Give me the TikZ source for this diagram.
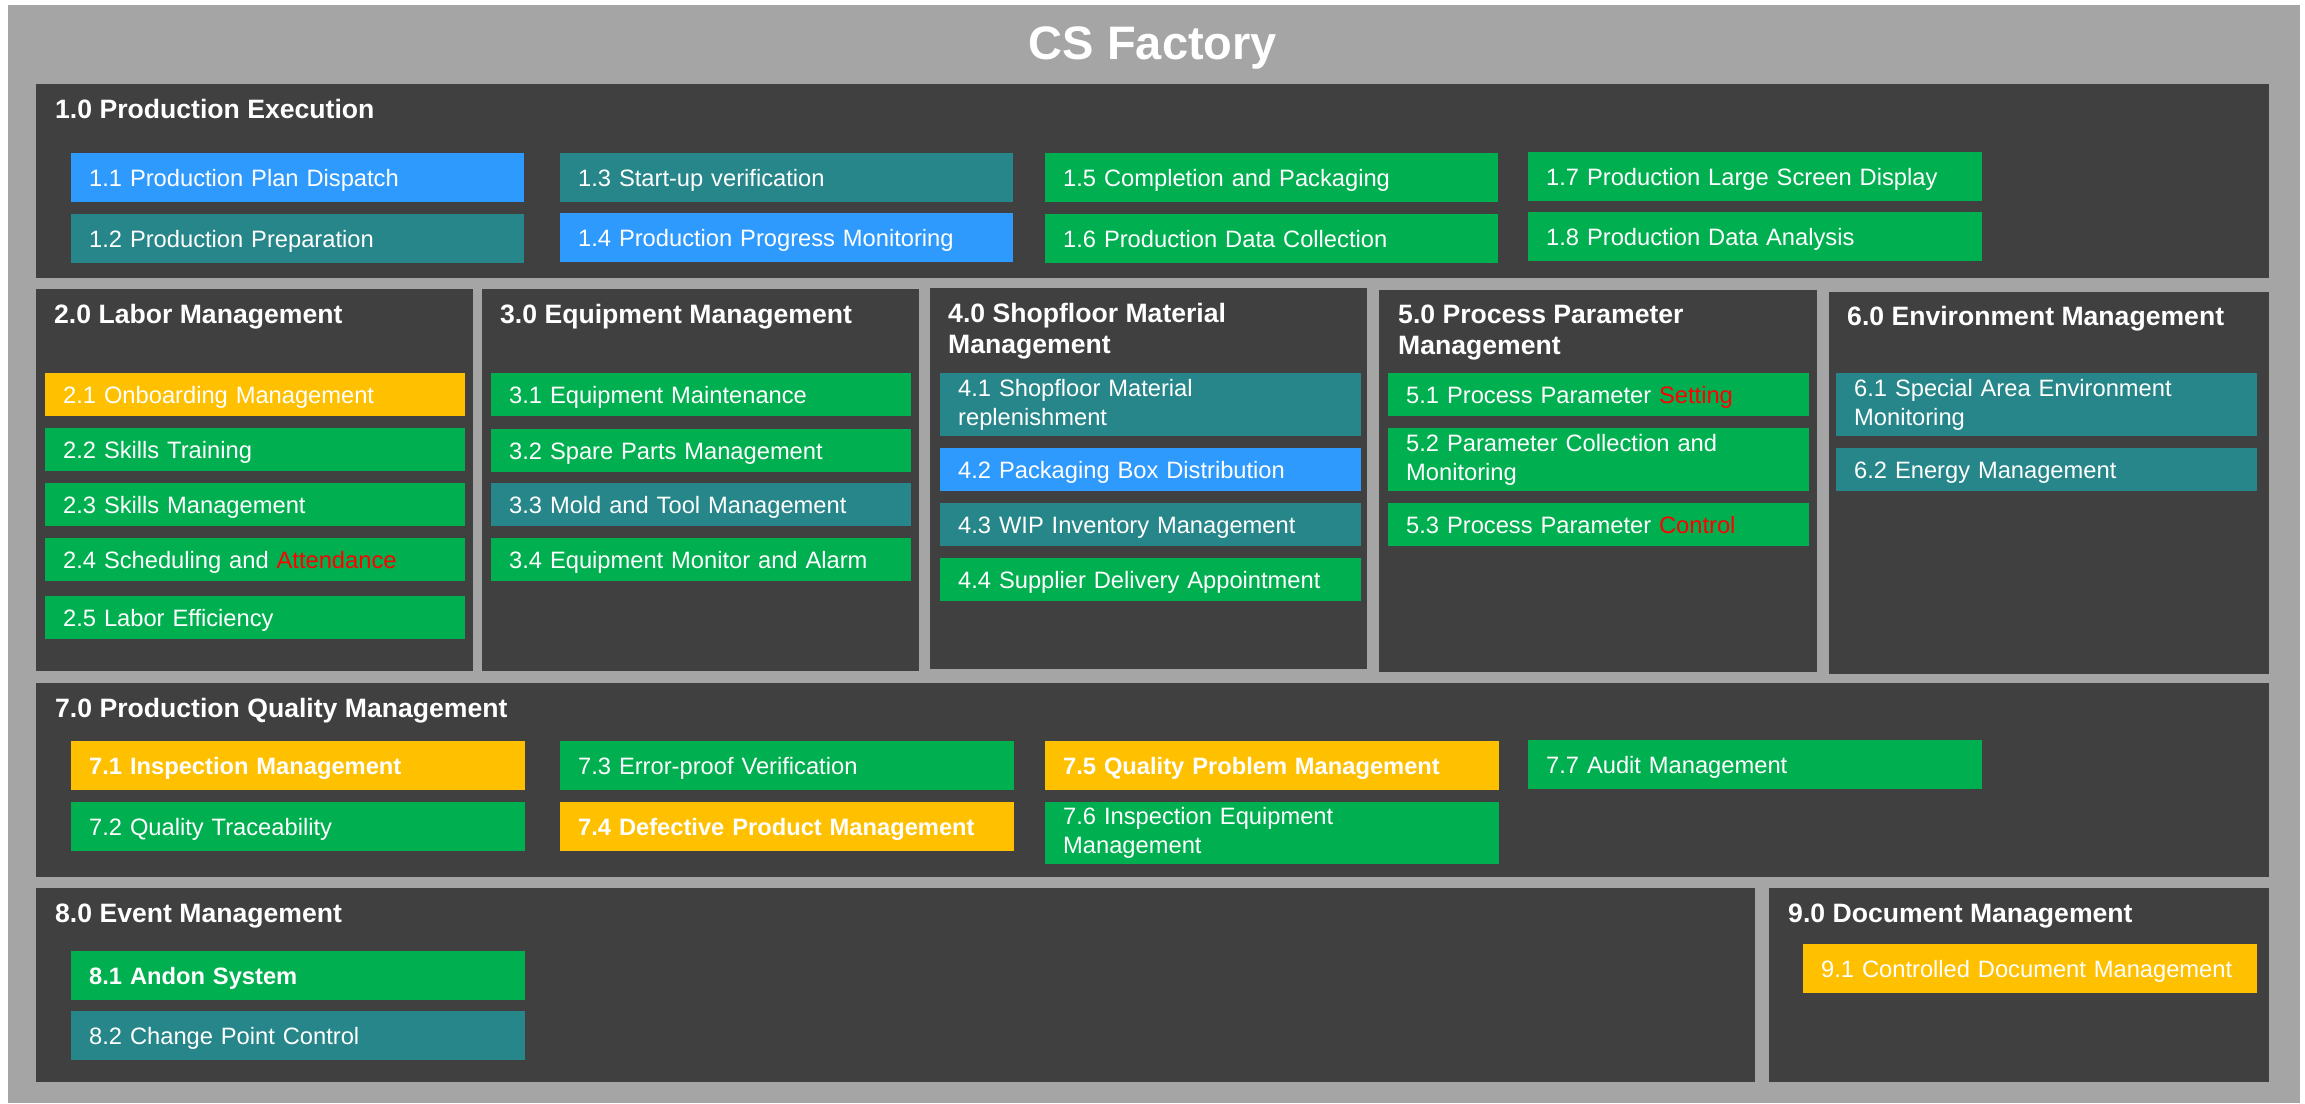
\documentclass[tikz,border=0pt]{standalone}
\usepackage{fontspec}
\setmainfont{Liberation Sans}
\usepackage{xcolor}
\definecolor{outergray}{HTML}{A5A5A5}
\definecolor{darkbox}{HTML}{404040}
\definecolor{cblue}{HTML}{2E9AFE}
\definecolor{cteal}{HTML}{26868A}
\definecolor{cgreen}{HTML}{00B050}
\definecolor{cyellow}{HTML}{FFC000}
\definecolor{cred}{HTML}{FF0000}
\newcommand{\myitem}[8]{% name, x1, y1, x2, y2, fill, style, text
  \pgfmathsetmacro\myW{#4-#2}%
  \pgfmathsetmacro\myH{#5-#3}%
  \pgfmathsetmacro\myT{#4-#2-36}%
  \node[#7, fill=#6, anchor=north west, minimum width=\myW pt, minimum height=\myH pt, text width=\myT pt] (#1) at (#2,#3) {#8};%
}
\newcommand{\mysec}[5]{% name, x1, y1, x2, y2
  \pgfmathsetmacro\myW{#4-#2}%
  \pgfmathsetmacro\myH{#5-#3}%
  \node[secbox, anchor=north west, minimum width=\myW pt, minimum height=\myH pt] (#1) at (#2,#3) {};%
}
\begin{document}
\begin{tikzpicture}[x=1pt,y=-1pt,
  secbox/.style={fill=darkbox, draw=none, inner sep=0pt},
  oneline/.style={draw=none, inner xsep=18pt, inner ysep=0pt, align=left, text=white,
    font=\fontsize{23.7}{29}\selectfont, text height=17pt, text depth=0pt},
  twoline/.style={draw=none, inner xsep=18pt, inner ysep=0pt, align=left, text=white,
    font=\fontsize{23.7}{29}\selectfont},
  sectitle/.style={text=white, inner sep=0pt, anchor=base west, font=\bfseries\fontsize{26.6}{31}\selectfont},
  sectitletwo/.style={text=white, inner sep=0pt, anchor=north west, align=left, font=\bfseries\fontsize{26.6}{31}\selectfont}
]
\useasboundingbox (0,0) rectangle (2305,1103);
\fill[outergray] (8,5) rectangle (2300,1103);
\node[text=white, anchor=base, inner sep=0pt, font=\bfseries\fontsize{47}{56}\selectfont] (title) at (1153,59) {CS Factory};

% sections
\mysec{s1}{36}{84}{2269}{278}
\mysec{s2}{36}{289}{473}{671}
\mysec{s3}{482}{289}{919}{671}
\mysec{s4}{930}{288}{1367}{669}
\mysec{s5}{1379}{290}{1817}{672}
\mysec{s6}{1829}{292}{2269}{674}
\mysec{s7}{36}{683}{2269}{877}
\mysec{s8}{36}{888}{1755}{1082}
\mysec{s9}{1769}{888}{2269}{1082}

% section titles
\node[sectitle] (t1) at (55,118) {1.0 Production Execution};
\node[sectitle] (t2) at (54,323) {2.0 Labor Management};
\node[sectitle] (t3) at (500,323) {3.0 Equipment Management};
\node[sectitletwo] (t4) at (948,303.5) {4.0 Shopfloor Material\\Management};
\node[sectitletwo] (t5) at (1398,305) {5.0 Process Parameter\\Management};
\node[sectitle] (t6) at (1847,325) {6.0 Environment Management};
\node[sectitle] (t7) at (55,717) {7.0 Production Quality Management};
\node[sectitle] (t8) at (55,922) {8.0 Event Management};
\node[sectitle] (t9) at (1788,922) {9.0 Document Management};

% 1.x
\myitem{i11}{71}{153}{524}{202}{cblue}{oneline}{1.1 Production Plan Dispatch}
\myitem{i12}{71}{214}{524}{263}{cteal}{oneline}{1.2 Production Preparation}
\myitem{i13}{560}{153}{1013}{202}{cteal}{oneline}{1.3 Start-up verification}
\myitem{i14}{560}{213}{1013}{262}{cblue}{oneline}{1.4 Production Progress Monitoring}
\myitem{i15}{1045}{153}{1498}{202}{cgreen}{oneline}{1.5 Completion and Packaging}
\myitem{i16}{1045}{214}{1498}{263}{cgreen}{oneline}{1.6 Production Data Collection}
\myitem{i17}{1528}{152}{1982}{201}{cgreen}{oneline}{1.7 Production Large Screen Display}
\myitem{i18}{1528}{212}{1982}{261}{cgreen}{oneline}{1.8 Production Data Analysis}

% 2.x
\myitem{i21}{45}{373}{465}{416}{cyellow}{oneline}{2.1 Onboarding Management}
\myitem{i22}{45}{428}{465}{471}{cgreen}{oneline}{2.2 Skills Training}
\myitem{i23}{45}{483}{465}{526}{cgreen}{oneline}{2.3 Skills Management}
\myitem{i24}{45}{538}{465}{581}{cgreen}{oneline}{2.4 Scheduling and \textcolor{cred}{Attendance}}
\myitem{i25}{45}{596}{465}{639}{cgreen}{oneline}{2.5 Labor Efficiency}

% 3.x
\myitem{i31}{491}{373}{911}{416}{cgreen}{oneline}{3.1 Equipment Maintenance}
\myitem{i32}{491}{429}{911}{472}{cgreen}{oneline}{3.2 Spare Parts Management}
\myitem{i33}{491}{483}{911}{526}{cteal}{oneline}{3.3 Mold and Tool Management}
\myitem{i34}{491}{538}{911}{581}{cgreen}{oneline}{3.4 Equipment Monitor and Alarm}

% 4.x
\myitem{i41}{940}{373}{1361}{436}{cteal}{twoline}{4.1 Shopfloor Material\\replenishment}
\myitem{i42}{940}{448}{1361}{491}{cblue}{oneline}{4.2 Packaging Box Distribution}
\myitem{i43}{940}{503}{1361}{546}{cteal}{oneline}{4.3 WIP Inventory Management}
\myitem{i44}{940}{558}{1361}{601}{cgreen}{oneline}{4.4 Supplier Delivery Appointment}

% 5.x
\myitem{i51}{1388}{373}{1809}{416}{cgreen}{oneline}{5.1 Process Parameter \textcolor{cred}{Setting}}
\myitem{i52}{1388}{428}{1809}{491}{cgreen}{twoline}{5.2 Parameter Collection and\\Monitoring}
\myitem{i53}{1388}{503}{1809}{546}{cgreen}{oneline}{5.3 Process Parameter \textcolor{cred}{Control}}

% 6.x
\myitem{i61}{1836}{373}{2257}{436}{cteal}{twoline}{6.1 Special Area Environment\\Monitoring}
\myitem{i62}{1836}{448}{2257}{491}{cteal}{oneline}{6.2 Energy Management}

% 7.x
\myitem{i71}{71}{741}{525}{790}{cyellow}{oneline}{\bfseries 7.1 Inspection Management}
\myitem{i72}{71}{802}{525}{851}{cgreen}{oneline}{7.2 Quality Traceability}
\myitem{i73}{560}{741}{1014}{790}{cgreen}{oneline}{7.3 Error-proof Verification}
\myitem{i74}{560}{802}{1014}{851}{cyellow}{oneline}{\bfseries 7.4 Defective Product Management}
\myitem{i75}{1045}{741}{1499}{790}{cyellow}{oneline}{\bfseries 7.5 Quality Problem Management}
\myitem{i76}{1045}{802}{1499}{864}{cgreen}{twoline}{7.6 Inspection Equipment\\Management}
\myitem{i77}{1528}{740}{1982}{789}{cgreen}{oneline}{7.7 Audit Management}

% 8.x
\myitem{i81}{71}{951}{525}{1000}{cgreen}{oneline}{\bfseries 8.1 Andon System}
\myitem{i82}{71}{1011}{525}{1060}{cteal}{oneline}{8.2 Change Point Control}

% 9.x
\myitem{i91}{1803}{944}{2257}{993}{cyellow}{oneline}{9.1 Controlled Document Management}
\end{tikzpicture}
\end{document}
